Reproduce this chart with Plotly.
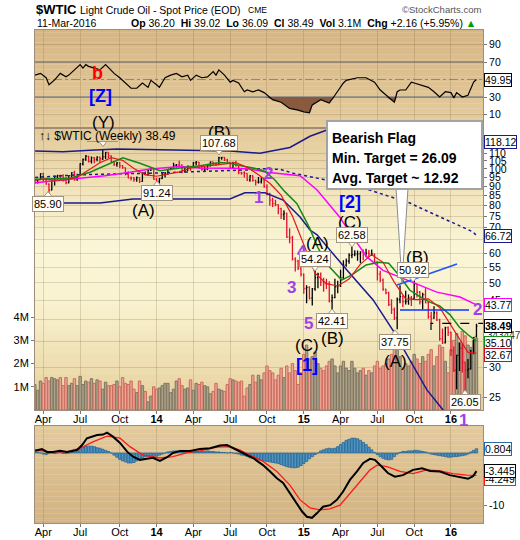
import math
import pandas as pd
import plotly.graph_objects as go

# ---------------- data (weekly bars, week ending Fridays) ----------------
week_end = pd.date_range("2013-03-08", "2016-03-11", freq="W-FRI")
idx = list(range(len(week_end)))

opens = [90.10, 91.95, 93.45, 93.71, 97.23, 92.70, 91.29, 88.01, 93.00, 95.61,
         96.04, 96.02, 94.15, 91.97, 96.03, 97.85, 93.69, 96.56, 103.22, 105.95,
         108.05, 104.70, 106.94, 106.03, 107.46, 106.42, 107.65, 110.53, 108.21, 104.67,
         102.87, 103.84, 102.02, 100.81, 97.85, 94.61, 94.60, 93.84, 94.84, 92.72,
         97.65, 96.60, 99.32, 100.32, 93.96, 92.72, 94.37, 96.64, 97.49, 99.88,
         100.30, 102.20, 102.59, 102.58, 98.89, 99.46, 101.67, 101.14, 103.74, 104.30,
         100.60, 99.76, 99.99, 102.02, 104.35, 102.71, 102.66, 106.91, 107.26, 105.74,
         104.06, 100.83, 103.13, 102.09, 97.88, 97.65, 97.35, 93.65, 95.96, 93.29,
         92.27, 92.41, 93.54, 89.74, 85.82, 82.75, 81.01, 80.54, 78.65, 75.82,
         76.51, 66.15, 65.84, 57.81, 57.13, 54.73, 52.69, 48.36, 48.69, 45.59,
         48.24, 51.69, 52.78, 50.34, 49.76, 49.61, 44.84, 45.72, 48.87, 49.14,
         51.64, 55.74, 57.15, 59.15, 59.39, 59.69, 59.72, 60.30, 59.13, 59.96,
         59.61, 59.63, 56.93, 52.74, 50.89, 48.14, 47.12, 43.87, 42.50, 40.45,
         45.22, 46.05, 44.63, 44.68, 45.70, 45.54, 49.63, 47.26, 44.60, 46.59,
         44.29, 40.74, 40.39, 41.71, 39.97, 35.62, 34.73, 38.10, 37.04, 33.16,
         29.42, 32.19, 33.62, 30.89, 29.44, 29.64, 32.78, 36.20]
highs = [92.40, 93.60, 94.00, 97.40, 97.80, 94.80, 91.60, 93.50, 96.00, 96.60,
         96.50, 96.90, 95.40, 96.20, 98.00, 99.00, 97.10, 103.50, 106.60, 108.90,
         108.20, 107.90, 107.50, 108.00, 107.90, 112.20, 110.80, 110.70, 108.70, 104.80,
         104.30, 104.40, 102.40, 100.90, 98.60, 95.50, 95.30, 95.60, 95.00, 97.90,
         98.70, 99.40, 100.70, 100.50, 94.60, 94.60, 97.80, 98.20, 100.00, 101.00,
         103.80, 103.10, 105.20, 102.80, 101.40, 102.20, 101.80, 104.30, 104.90, 104.40,
         101.80, 101.40, 102.40, 104.60, 104.50, 104.10, 107.68, 107.50, 107.50, 106.50,
         104.20, 104.50, 105.20, 102.20, 98.30, 98.60, 97.40, 96.20, 96.10, 93.80,
         95.20, 95.00, 95.00, 91.10, 86.60, 83.90, 83.00, 80.70, 79.00, 77.80,
         76.60, 69.70, 66.60, 58.50, 57.60, 55.00, 53.00, 49.30, 49.00, 48.50,
         54.24, 53.20, 53.30, 51.60, 51.30, 50.50, 46.60, 51.30, 50.70, 54.20,
         57.40, 58.00, 59.90, 62.58, 61.00, 60.90, 60.60, 61.30, 61.60, 61.10,
         61.30, 59.80, 57.00, 53.90, 51.40, 48.30, 47.40, 45.30, 43.10, 45.80,
         49.30, 46.40, 47.70, 46.60, 46.20, 50.92, 49.80, 47.60, 47.10, 48.40,
         44.80, 42.00, 43.40, 42.10, 40.20, 37.90, 38.30, 38.40, 37.20, 34.00,
         32.30, 34.80, 34.50, 31.00, 31.50, 33.30, 36.00, 39.02]
lows = [89.90, 91.30, 91.50, 93.50, 92.40, 90.80, 85.90, 87.90, 90.50, 93.80,
        93.60, 92.70, 91.20, 91.70, 94.80, 93.10, 93.10, 96.40, 102.20, 105.20,
        104.00, 103.40, 103.60, 104.80, 103.70, 105.60, 106.30, 106.90, 104.20, 101.80,
        101.40, 100.60, 100.20, 96.20, 94.50, 93.30, 92.60, 92.60, 91.80, 92.60,
        96.10, 95.90, 98.80, 93.60, 91.24, 91.60, 94.10, 95.00, 96.60, 99.20,
        100.10, 100.90, 101.40, 97.40, 97.70, 98.80, 98.90, 100.90, 102.50, 100.60,
        98.90, 98.60, 99.30, 101.60, 102.30, 101.90, 102.40, 105.70, 105.00, 103.80,
        100.50, 100.10, 101.50, 96.80, 96.60, 95.00, 92.90, 92.50, 92.50, 90.40,
        91.50, 91.60, 89.20, 85.30, 80.00, 79.40, 79.70, 76.00, 73.80, 73.30,
        65.70, 63.70, 57.30, 53.60, 54.10, 52.00, 46.80, 44.20, 45.20, 43.60,
        47.70, 48.40, 49.10, 47.40, 48.20, 44.40, 42.41, 45.60, 47.00, 48.80,
        51.20, 55.20, 56.20, 58.10, 58.80, 57.20, 56.50, 57.40, 58.50, 58.60,
        58.90, 56.10, 50.80, 50.20, 47.70, 46.70, 43.50, 41.40, 39.90, 37.75,
        44.20, 43.20, 43.90, 43.80, 43.50, 45.10, 45.80, 43.90, 42.60, 44.20,
        40.20, 39.00, 40.20, 39.70, 35.20, 34.50, 34.60, 36.20, 32.10, 29.10,
        26.20, 29.30, 29.00, 26.05, 28.00, 29.60, 32.40, 35.90]
closes = [91.95, 93.45, 93.71, 97.23, 92.70, 91.29, 88.01, 93.00, 95.61, 96.04,
          96.02, 94.15, 91.97, 96.03, 97.85, 93.69, 96.56, 103.22, 105.95, 108.05,
          104.70, 106.94, 106.03, 107.46, 106.42, 107.65, 110.53, 108.21, 104.67, 102.87,
          103.84, 102.02, 100.81, 97.85, 94.61, 94.60, 93.84, 94.84, 92.72, 97.65,
          96.60, 99.32, 100.32, 93.96, 92.72, 94.37, 96.64, 97.49, 99.88, 100.30,
          102.20, 102.59, 102.58, 98.89, 99.46, 101.67, 101.14, 103.74, 104.30, 100.60,
          99.76, 99.99, 102.02, 104.35, 102.71, 102.66, 106.91, 107.26, 105.74, 104.06,
          100.83, 103.13, 102.09, 97.88, 97.65, 97.35, 93.65, 95.96, 93.29, 92.27,
          92.41, 93.54, 89.74, 85.82, 82.75, 81.01, 80.54, 78.65, 75.82, 76.51,
          66.15, 65.84, 57.81, 57.13, 54.73, 52.69, 48.36, 48.69, 45.59, 48.24,
          51.69, 52.78, 50.34, 49.76, 49.61, 44.84, 45.72, 48.87, 49.14, 51.64,
          55.74, 57.15, 59.15, 59.39, 59.69, 59.72, 60.30, 59.13, 59.96, 59.61,
          59.63, 56.93, 52.74, 50.89, 48.14, 47.12, 43.87, 42.50, 40.45, 45.22,
          46.05, 44.63, 44.68, 45.70, 45.54, 49.63, 47.26, 44.60, 46.59, 44.29,
          40.74, 40.39, 41.71, 39.97, 35.62, 34.73, 38.10, 37.04, 33.16, 29.42,
          32.19, 33.62, 30.89, 29.44, 29.64, 32.78, 35.92, 38.49]
volume_m = [1.0, 1.1, 0.85, 1.25, 1.15, 1.4, 1.25, 1.4, 1.35, 1.3,
            1.4, 1.05, 1.4, 1.05, 1.15, 1.35, 1.05, 1.45, 1.1, 1.25,
            1.2, 1.35, 1.15, 1.3, 1.25, 0.9, 1.2, 1.05, 1.05, 1.1,
            1.25, 1.0, 1.4, 1.15, 1.1, 1.25, 0.9, 0.75, 1.25, 1.05,
            0.8, 0.35, 0.6, 1.0, 0.9, 0.95, 1.05, 1.15, 1.15, 0.75,
            0.9, 1.25, 1.35, 1.05, 0.9, 0.95, 1.3, 0.85, 1.15, 1.1,
            1.2, 1.05, 1.0, 0.7, 0.8, 1.15, 0.9, 0.85, 0.8, 1.1,
            1.35, 1.3, 1.25, 1.2, 1.25, 0.6, 0.95, 1.1, 1.5, 1.2,
            1.5, 1.3, 1.6, 1.9, 1.7, 1.6, 1.3, 1.5, 1.8, 1.4,
            1.9, 1.6, 2.0, 1.7, 1.1, 1.6, 2.4, 2.8, 2.2, 2.3,
            2.5, 2.0, 1.8, 1.7, 1.9, 2.1, 2.2, 1.9, 1.6, 1.9,
            2.1, 1.8, 1.7, 2.1, 1.8, 1.6, 1.7, 1.8, 1.5, 1.7,
            1.6, 1.9, 2.1, 1.8, 1.9, 2.0, 2.2, 2.4, 2.7, 3.0,
            2.3, 1.8, 2.0, 1.9, 2.1, 2.4, 2.2, 2.0, 2.3, 2.1,
            2.4, 2.6, 1.9, 2.3, 2.8, 2.7, 2.1, 1.6, 2.6, 3.0,
            3.3, 2.9, 3.4, 3.2, 2.8, 2.7, 3.0, 3.1]

# overlays (week index, value)
sma10_i = [1, 4, 9, 12, 16, 20, 24, 28, 32, 36, 40, 44, 48, 52, 56, 60, 64, 68, 72, 76, 80,
           84, 88, 92, 96, 100, 104, 108, 112, 116, 120, 124, 128, 132, 136, 140, 144, 148, 152, 154, 157]
sma10_v = [93.5, 94, 93.3, 93.6, 95.1, 99.2, 103.9, 107.1, 105.4, 100.3, 96.6, 95.7, 96.9, 98.3, 100.6,
           101.5, 102, 103.2, 104, 101, 96.6, 91.7, 85.3, 75.1, 63.4, 53.1, 49.8, 49.1, 51.2, 56.1,
           59.4, 56.7, 50.2, 45.4, 45.2, 45.4, 43.1, 38.6, 34.5, 32.8, 32.67]
green_i = [1.1, 13.4, 20.5, 27.6, 32.1, 38.1, 41.7, 45.2, 52.3, 59.3, 66.4, 69.9, 75.2, 79.8, 82.3,
           85.8, 89.4, 93.6, 98, 101, 104.2, 109.4, 113, 118, 122.6, 126, 130, 133.4, 137, 140.5,
           144, 147.7, 151, 154, 157]
green_v = [94, 94.5, 98, 103.5, 107, 103.5, 101, 99, 100.6, 102, 104, 103.5, 101.5, 100, 98.5,
           93.5, 87, 81, 70, 62, 56, 50.9, 52.5, 55.8, 56.7, 56.4, 52, 47.9, 46, 44.5,
           43.5, 41.2, 38.2, 36.5, 35.10]
magenta_i = [1.1, 25.8, 34.6, 41.7, 52.3, 59.3, 71.7, 77, 83, 94.7, 100.7, 108.8, 112.3, 118.3,
             124, 132.5, 143, 151.2, 157]
magenta_v = [92, 96, 98, 100, 101.5, 100.6, 100.5, 100, 98, 96, 88, 74.5, 67.8, 58.6,
             54, 50.9, 47.3, 45.9, 43.77]
sma100_i = [1.1, 15.9, 41.7, 59.3, 77, 80.5, 87.6, 92.2, 104.2, 115.9, 133.5, 137, 155.8, 157]
sma100_v = [95, 96.5, 97.5, 98.5, 99.5, 100.2, 99.8, 97.5, 93.5, 89.6, 81.3, 79, 68.2, 66.72]
upper_i = [1.1, 11, 20.5, 30, 40, 50, 60, 70, 80.5, 91.1, 98.2, 104.2, 106.3, 112, 122, 132, 142, 150, 157]
upper_v = [111.6, 111.0, 112.0, 113.0, 112.5, 112.0, 111.5, 111.5, 110.0, 114.0, 122.0, 126.7, 128.5,
           131, 131, 128, 124, 121, 118.12]
lower_i = [1.1, 24, 35.7, 69.9, 75.2, 82.3, 88.7, 94.7, 98.2, 100.7, 111.3, 120.5, 127.5, 133.5,
           139.5, 145.2, 157]
lower_v = [81.3, 81.3, 83.3, 83.3, 86.5, 86.5, 82.8, 74.7, 69.0, 67.0, 54.0, 45.1, 37.5, 31.3,
           26.1, 23.1, 15.3]

# RSI(14)
rsi_i = [1, 3, 5, 6, 8, 10, 12, 13, 15, 17, 18, 19, 20, 24, 26, 29, 31, 33, 35, 37, 39, 41, 42, 44, 45,
         47, 49, 51, 53, 55, 56, 58, 60, 62, 64, 65, 66, 68, 70, 71, 73, 75, 76, 78, 80, 82, 85, 88, 91,
         94, 96, 98, 99, 102, 104, 105, 107, 110, 111, 115, 118, 121, 123, 125, 128, 129, 130, 132,
         134, 135, 137, 140, 142, 144, 146, 148, 149, 150, 152, 154, 156, 157]
rsi_v = [55, 57, 52, 44, 49.5, 57, 53, 55, 61, 67, 63, 67, 65, 61, 67, 57, 52, 46, 40, 40, 46, 41, 49, 44, 41,
         52, 55, 57, 53, 55, 49, 55, 52, 53, 59, 55, 61, 55, 47, 49, 46, 36, 38, 36, 38, 35, 27, 24, 17,
         15, 13, 12, 21, 27, 24, 23, 32, 46, 49, 52, 52, 47, 38, 32, 24, 36, 38, 38,
         47, 46, 44, 41, 36, 30, 36, 35, 29, 35, 30, 32, 47, 49.95]

# MACD(12,26,9)
macd_i = [1.1, 3.5, 5.3, 7.4, 9.9, 12.4, 15.9, 17.7, 19.4, 23, 25.1, 26.5, 28.6, 31.1, 33.6, 35.7, 38.1,
          40.6, 42.7, 45.2, 47.7, 49.8, 52.3, 55.8, 59.3, 62.9, 66.4, 68.9, 71, 74.5, 78.1, 81.6, 84.1,
          86.5, 88.7, 91.1, 93.6, 95.4, 97.1, 98.9, 100.7, 102.8, 105.3, 107.7, 109.9, 112.3, 114.8,
          117, 119.4, 121.1, 123.6, 125.7, 128.2, 131, 134.6, 137.8, 140.6, 144.1, 147.6, 151.2, 154,
          155.8, 157]
macd_v = [0.44, 0.75, 0.2, 0.2, 0.4, 0.2, 0.57, 1.5, 2.8, 3.4, 3.5, 3.85, 3.1, 1.9, 0.25, -0.7, -1.3,
          -1.1, -0.9, -1.5, -0.8, 0, 0.4, 0.4, 0.75, 0.9, 1.4, 1.5, 0.9, 0, -0.95, -2.3, -3.5,
          -4.8, -5.7, -7.6, -9.5, -11.1, -12.1, -12.3, -11.4, -10.2, -9.9, -8.9, -7.3, -5.1, -3.5,
          -1.9, -1.1, -1.3, -2.6, -3.8, -4.5, -4.2, -3.2, -2.9, -3.4, -3.5, -4.2, -4.6, -4.9,
          -4.4, -3.445]
signal_i = [1.1, 6.4, 12.4, 17, 21.5, 26.5, 31.1, 34.6, 39.2, 45.2, 49.8, 54.8, 59.3, 65.3, 69.9, 73.5,
            77, 81.6, 86.5, 91.1, 94.7, 98.2, 101.7, 105.3, 108.8, 112.3, 115.9, 119.4, 121.9, 125.4,
            130, 134.6, 139.5, 144.1, 148.7, 153.6, 157]
signal_v = [0.57, 0.2, 0.2, 0.9, 2.1, 3.2, 2.8, 1.2, -0.4, -0.95, -0.7, 0.05, 0.4, 1.1, 1.2, 0.57,
            -0.4, -1.6, -3.5, -6.1, -8.9, -10.4, -10.8, -10.6, -9.9, -7.6, -5.4, -3.2, -2.3, -2.6,
            -3.5, -3.9, -3.2, -3.4, -3.9, -4.2, -4.249]
macd_hist = [0.1, 0.1, 0.2, 0.0, -0.2, -0.3, -0.1, 0.0, -0.1, 0.0, 0.1, -0.1, -0.1, 0.0, 0.1, 0.2, 0.4,
             0.8, 1.1, 1.3, 1.3, 1.3, 1.2, 1.0, 0.9, 0.7, 0.5, 0.3, 0.0,
             -0.4, -0.8, -1.2, -1.5, -1.7, -1.9, -1.9, -1.8, -1.5, -1.2, -0.9, -0.7, -0.6,
             -0.6, -0.7, -0.6, -0.4, -0.2, 0.0, 0.2,
             0.3, 0.4, 0.4, 0.3, 0.3, 0.2, 0.2, 0.3, 0.3, 0.2, 0.3, 0.3, 0.3, 0.4, 0.3, 0.3, 0.2, 0.2,
             0.1, 0.1, 0.0, 0.1, 0.0, -0.1, -0.2,
             -0.4, -0.5, -0.7, -0.9, -1.0, -1.1, -1.3, -1.4, -1.5, -1.6, -1.7, -1.8, -1.9, -2.0,
             -2.2, -2.4, -2.6, -2.7, -2.8, -2.8, -2.7, -2.4, -2.0, -1.6, -1.1, -0.7, -0.3, 0.0,
             0.4, 0.6, 0.8, 0.9, 0.8, 0.9, 1.2,
             1.6, 2.0, 2.4, 2.6, 2.8, 2.8, 2.7, 2.4, 2.0, 1.6, 1.1, 0.6, 0.1,
             -0.3, -0.7, -1.0, -1.2, -1.3, -1.2, -0.7,
             -0.2, 0.1, 0.3, 0.3, 0.4, 0.4, 0.5, 0.5, 0.4, 0.3, 0.2, 0.0,
             -0.2, -0.3, -0.4, -0.5, -0.6, -0.7, -0.8, -0.8, -0.7, -0.7, -0.6, -0.5, -0.4, -0.2,
             0.2, 0.5, 0.804]

tick_i = [4, 17, 31, 44, 57, 70, 83, 96, 109, 122, 135, 148]
tick_text = ["Apr", "Jul", "Oct", "<b>14</b>", "Apr", "Jul", "Oct", "<b>15</b>",
             "Apr", "Jul", "Oct", "<b>16</b>"]
price_ticks = [25, 30, 35, 40, 45, 50, 55, 60, 65, 70, 75, 80, 85, 90, 95, 100, 105, 110]
price_ticks_hidden = [35, 40, 65]     # covered by value boxes in the original
macd_ticks = [-10, -5, 0]

# ---------------- geometry helpers (pixel -> paper) ----------------
PL, PR, PT, PB = 35, 483, 30, 523
def X(px):
    return (px - PL) / (PR - PL)
def Y(py):
    return (PB - py) / (PB - PT)

FONT = "Liberation Sans"
fig = go.Figure()

# ---------------- RSI panel ----------------
rsi_floor = [min(v, 30) for v in rsi_v]
fig.add_trace(go.Scatter(x=rsi_i, y=[30] * len(rsi_i), mode="lines", line=dict(width=0),
                         xaxis="x", yaxis="y", hoverinfo="skip", showlegend=False))
fig.add_trace(go.Scatter(x=rsi_i, y=rsi_floor, mode="lines", line=dict(width=0), fill="tonexty",
                         fillcolor="rgb(138,90,62)", xaxis="x", yaxis="y", hoverinfo="skip",
                         showlegend=False))
fig.add_trace(go.Scatter(x=rsi_i, y=rsi_v, mode="lines", line=dict(color="black", width=1.2),
                         xaxis="x", yaxis="y", hoverinfo="skip", showlegend=False))

# ---------------- volume (behind price) ----------------
up = [closes[k] >= (closes[k - 1] if k else opens[0]) for k in idx]
fig.add_trace(go.Bar(x=idx, y=volume_m, xaxis="x2", yaxis="y2", showlegend=False, hoverinfo="skip",
                     marker=dict(color=["#ada48c" if u else "#eaa595" for u in up],
                                 line=dict(color=["#807660" if u else "#cd6c5e" for u in up], width=1))))

# ---------------- price overlays ----------------
def line(xs, ys, color, width=1.5, dash="solid"):
    fig.add_trace(go.Scatter(x=xs, y=ys, mode="lines", line=dict(color=color, width=width, dash=dash),
                             xaxis="x2", yaxis="y3", hoverinfo="skip", showlegend=False))

line(upper_i, upper_v, "#1a1a8c")
line(lower_i, lower_v, "#1a1a8c")
line(sma100_i, sma100_v, "#1a1a8c", 1.5, "dot")
line(magenta_i, magenta_v, "#ff00ff")
line(green_i, green_v, "#138a13")
line(sma10_i, sma10_v, "#e01a1a", 1.2)

fig.add_trace(go.Ohlc(x=idx, open=opens, high=highs, low=lows, close=closes, xaxis="x2", yaxis="y3",
                      increasing=dict(line=dict(color="black", width=1.3)),
                      decreasing=dict(line=dict(color="#e3102c", width=1.3)),
                      tickwidth=0.35, hoverinfo="skip", showlegend=False))

# ---------------- MACD panel ----------------
fig.add_trace(go.Bar(x=idx, y=macd_hist, xaxis="x3", yaxis="y4", showlegend=False, hoverinfo="skip",
                     marker=dict(color="#4b96c6", line=dict(color="#2a6592", width=0.8))))
fig.add_trace(go.Scatter(x=signal_i, y=signal_v, mode="lines", line=dict(color="#ff1a1a", width=1.3),
                         xaxis="x3", yaxis="y4", hoverinfo="skip", showlegend=False))
fig.add_trace(go.Scatter(x=macd_i, y=macd_v, mode="lines", line=dict(color="black", width=2),
                         xaxis="x3", yaxis="y4", hoverinfo="skip", showlegend=False))

# ---------------- backgrounds (vertical gradients) ----------------
def hex2rgb(h):
    return [int(h[k:k + 2], 16) for k in (1, 3, 5)]

def gradient(xref, yref, stops, n=40):
    out = []
    for k in range(n):
        t = (k + 0.5) / n
        for a in range(len(stops) - 1):
            if stops[a][0] <= t <= stops[a + 1][0]:
                f = (t - stops[a][0]) / (stops[a + 1][0] - stops[a][0])
                c0, c1 = hex2rgb(stops[a][1]), hex2rgb(stops[a + 1][1])
                col = "rgb(%d,%d,%d)" % tuple(round(c0[j] + f * (c1[j] - c0[j])) for j in range(3))
                break
        out.append(dict(type="rect", xref=xref, yref=yref, x0=0, x1=1,
                        y0=max(0, 1 - (k + 1) / n - 0.003), y1=1 - k / n,
                        fillcolor=col, line=dict(width=0), layer="below"))
    return out

shapes = []
shapes += gradient("x domain", "y domain", [(0, "#d7b685"), (1, "#e5cc9d")])
shapes += gradient("x2 domain", "y2 domain", [(0, "#e2c897"), (0.22, "#f2e4bb"), (0.42, "#fbf6d8"),
                                               (0.62, "#f9f2d0"), (0.82, "#efe0b3"), (1, "#e5cd9b")])
shapes += gradient("x3 domain", "y4 domain", [(0, "#e3ca9c"), (1, "#d3b382")])

# RSI reference lines
for lvl, dash, col, w in [(70, "solid", "#858585", 1.5), (30, "solid", "#858585", 1.5),
                          (50, "dashdot", "#8a8a8a", 1)]:
    shapes.append(dict(type="line", xref="x domain", yref="y", x0=0, x1=1, y0=lvl, y1=lvl,
                       line=dict(color=col, width=w, dash=dash), layer="below"))

# trendlines / flag drawing (pixel placed)
shapes.append(dict(type="line", xref="paper", yref="paper", x0=X(400), x1=X(469), y0=Y(310), y1=Y(310),
                   line=dict(color="#1030ff", width=1.6)))
shapes.append(dict(type="line", xref="paper", yref="paper", x0=X(397), x1=X(457), y0=Y(285), y1=Y(264),
                   line=dict(color="#1a55ff", width=1.6)))
shapes.append(dict(type="path", xref="paper", yref="paper",
                   path="M %f,%f L %f,%f L %f,%f" % (X(431), Y(330), X(431), Y(323.3), X(483), Y(323.3)),
                   line=dict(color="black", width=1.2, dash="dash")))
# Bearish flag call-out
shapes.append(dict(type="path", xref="paper", yref="paper",
                   path="M %f,%f L %f,%f L %f,%f Z" % (X(396), Y(188), X(408), Y(188), X(402), Y(283)),
                   fillcolor="white", line=dict(color="#8c8c8c", width=1)))
shapes.append(dict(type="rect", xref="paper", yref="paper", x0=X(327), x1=X(482), y0=Y(189), y1=Y(121),
                   fillcolor="white", line=dict(color="#a3a3a3", width=2)))

annotations = []
def txt(text, px, py, size=17, color="black", bold=False, anchor="center", family=FONT):
    annotations.append(dict(text=("<b>%s</b>" % text) if bold else text, x=X(px), y=Y(py),
                            xref="paper", yref="paper", showarrow=False, xanchor=anchor,
                            yanchor="middle", font=dict(family=family, size=size, color=color)))

def vbox(text, px, py, pointer):
    annotations.append(dict(text=text, x=X(px), y=Y(py), xref="paper", yref="paper", showarrow=False,
                            xanchor="center", yanchor="middle", bgcolor="#fffdf6",
                            bordercolor="#a39380", borderwidth=1, borderpad=1,
                            font=dict(family=FONT, size=11, color="black")))
    if pointer == "down":
        b, a = py + 7, py + 12
    else:
        b, a = py - 7, py - 12
    shapes.append(dict(type="path", xref="paper", yref="paper",
                       path="M %f,%f L %f,%f L %f,%f Z" % (X(px - 4), Y(b), X(px + 4), Y(b), X(px), Y(a)),
                       fillcolor="#fffdf6", line=dict(color="#a39380", width=1)))

# header
txt("$WTIC", 34, 9, 13, bold=True, anchor="left")
txt("Light Crude Oil - Spot Price (EOD)", 78, 10, 10.5, anchor="left")
txt("CME", 246, 10, 8.5, anchor="left")
txt("\u00a9StockCharts.com", 483, 10, 9.5, color="#555555", anchor="right")
txt("11-Mar-2016", 35, 23, 10.5, anchor="left")
txt("<b>Op</b> 36.20  <b>Hi</b> 39.02  <b>Lo</b> 36.09  <b>Cl</b> 38.49  <b>Vol</b> 3.1M  "
    "<b>Chg</b> +2.16 (+5.95%) <span style='color:#00a000'>\u25b2</span>", 478, 23, 10.5, anchor="right")

# legend-ish caption
txt("\u2191\u2193 $WTIC (Weekly) 38.49", 37, 136, 12, anchor="left")

# wave labels
PUR = "#a040e8"
txt("b", 97, 73, 18, "#ff0000", bold=True)
txt("[Z]", 100, 96, 18, "#0000ff", bold=True)
txt("(Y)", 103, 122, 17)
shapes.append(dict(type="line", xref="paper", yref="paper", x0=X(87), x1=X(118), y0=Y(141.5), y1=Y(141.5),
                   line=dict(color="#a39380", width=1)))
shapes.append(dict(type="path", xref="paper", yref="paper",
                   path="M %f,%f L %f,%f L %f,%f Z" % (X(99), Y(141.5), X(107), Y(141.5), X(103), Y(146.5)),
                   fillcolor="#fffdf6", line=dict(color="#a39380", width=1)))
txt("(B)", 219, 132, 17)
vbox("107.68", 219, 143, "down")
txt("(A)", 143, 210, 17)
vbox("91.24", 157, 193, "up")
vbox("85.90", 48, 203.5, "up")
txt("1", 258, 197, 17, PUR, bold=True)
txt("2", 268, 173, 17, PUR, bold=True)
txt("3", 291, 287, 17, PUR, bold=True)
txt("4", 302, 252, 17, PUR, bold=True)
txt("5", 308, 323, 17, PUR, bold=True)
txt("(A)", 317, 243, 17)
vbox("54.24", 315, 259, "down")
vbox("42.41", 332, 321, "up")
txt("(B)", 332, 338, 17)
txt("(C)", 307, 345, 17)
txt("[1]", 307, 365, 18, "#0000ff", bold=True)
txt("[2]", 350, 202, 18, "#0000ff", bold=True)
txt("(C)", 350, 223, 17)
vbox("62.58", 352, 235, "down")
txt("(B)", 417, 257, 17)
vbox("50.92", 413, 270, "down")
vbox("37.75", 395, 342, "up")
txt("(A)", 395, 362, 17)
txt("2", 477, 309, 17, PUR, bold=True)
vbox("26.05", 465, 402, "up")
txt("1", 463, 420, 17, PUR, bold=True)

# Bearish flag text
txt("Bearish Flag", 330, 138, 14, bold=True, anchor="left")
txt("Min. Target = 26.09", 330, 158, 14, bold=True, anchor="left")
txt("Avg. Target ~ 12.92", 330, 178, 14, bold=True, anchor="left")

# right-edge value boxes
def rbox(text, yref, yv, border, bold=False, color="black"):
    annotations.append(dict(text=("<b>%s</b>" % text) if bold else text, xref="paper", x=1.0, xshift=1,
                            xanchor="left", yref=yref, y=yv, yanchor="middle", showarrow=False,
                            bgcolor="white", bordercolor=border, borderwidth=1, borderpad=0,
                            font=dict(family=FONT, size=10.5, color=color)))

rbox("49.95", "y", 49.95, "black")
rbox("118.12", "y3", math.log10(118.12), "#1a1a8c")
rbox("66.72", "y3", math.log10(66.72), "#1a1a8c")
rbox("43.77", "y3", math.log10(43.77), "#ff00ff")
annotations.append(dict(text="343447", xref="paper", x=1.0, xshift=2, xanchor="left", yref="y3",
                        y=math.log10(36.4), yanchor="middle", showarrow=False,
                        font=dict(family=FONT, size=10, color="#333333")))
rbox("38.49", "y3", math.log10(38.49), "black", bold=True)
rbox("35.10", "y3", math.log10(34.8), "#138a13")
rbox("32.67", "y3", math.log10(32.2), "#c0102a")
rbox("-4.249", "y4", -4.9, "#ff1a1a")
rbox("-3.445", "y4", -3.445, "black")
rbox("0.804", "y4", 0.804, "#2a6aa8")

# ---------------- axes ----------------
LINE = "#a08c78"
GRID = "rgba(120,100,60,0.22)"
TICKF = dict(family=FONT, size=10.5, color="black")
xbase = dict(range=[1.06, 159.31], tickvals=tick_i, ticktext=tick_text, showgrid=True, gridcolor=GRID,
             zeroline=False, showline=True, linecolor=LINE, mirror=True, ticks="outside", ticklen=3,
             tickcolor="#777777", rangeslider=dict(visible=False), automargin=False,
             ticklabelstandoff=-4, tickfont=dict(family=FONT, size=11, color="black"))
ybase = dict(zeroline=False, showline=True, linecolor=LINE, mirror=True, ticks="outside", ticklen=3,
             tickcolor="#777777", tickfont=TICKF, automargin=False)

fig.update_layout(
    width=520, height=540, autosize=False, margin=dict(l=PL, r=520 - PR, t=PT, b=540 - PB, pad=0,
                                                       autoexpand=False),
    paper_bgcolor="white", plot_bgcolor="rgba(0,0,0,0)", showlegend=False, hovermode=False,
    bargap=0.15,
    xaxis=dict(xbase, anchor="y", showticklabels=False, ticks=""),
    xaxis2=dict(xbase, anchor="y2"),
    xaxis3=dict(xbase, anchor="y4"),
    yaxis=dict(ybase, domain=[Y(128), 1], range=[-5.43, 106.57], side="right", anchor="x",
               tickvals=[10, 30, 70, 90], showgrid=True, gridcolor=GRID),
    yaxis2=dict(ybase, domain=[Y(410), Y(128)], range=[0, 12.16], side="left", anchor="x2",
                tickvals=[1, 2, 3, 4], ticktext=["1M", "2M", "3M", "4M"], showgrid=False,
                tickfont=dict(family=FONT, size=11, color="black")),
    yaxis3=dict(ybase, overlaying="y2", type="log", range=[math.log10(23.1), math.log10(128.3)],
                side="right", anchor="x2", tickvals=price_ticks,
                ticktext=["" if v in price_ticks_hidden else str(v) for v in price_ticks],
                showgrid=True, gridcolor=GRID, mirror=False),
    yaxis4=dict(ybase, domain=[0, Y(426)], range=[-13.28, 5.12], side="right", anchor="x3",
                tickvals=macd_ticks, ticktext=["-10", "", ""], showgrid=False),
    shapes=shapes, annotations=annotations,
)

# the page's default 8px body margin would shift the 520x540 figure inside the window
fig.write_html("out.html", config={"displayModeBar": False, "responsive": False},
               post_script="document.documentElement.style.overflow='hidden';"
                           "document.body.style.margin='0';document.body.style.overflow='hidden';")
